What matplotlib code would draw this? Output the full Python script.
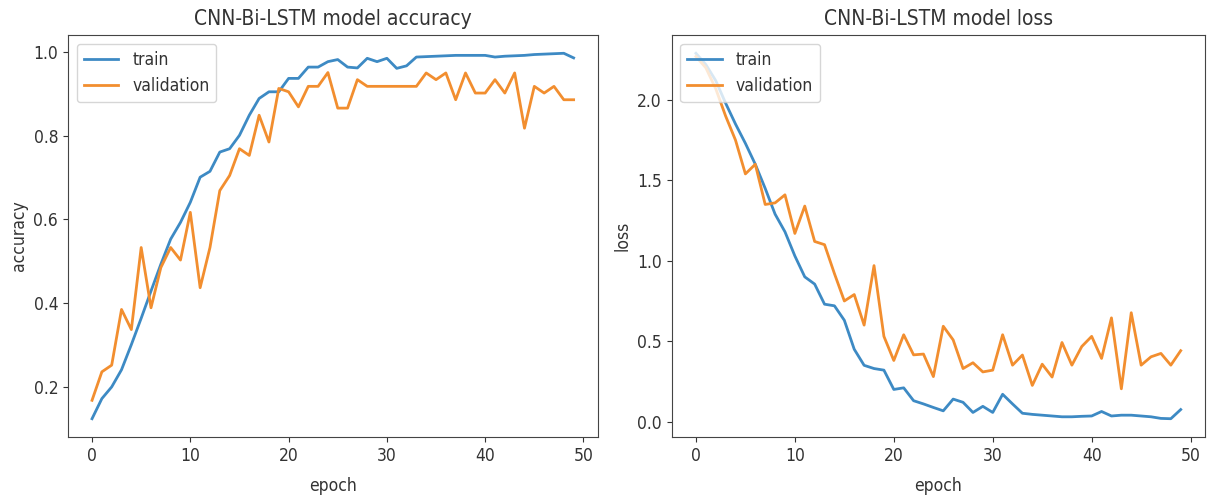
import numpy as np
import matplotlib
matplotlib.use('Agg')
from matplotlib import pyplot as plt

epochs = np.arange(50)

# accuracy
train_acc = [0.124, 0.172, 0.200, 0.241, 0.301, 0.364, 0.429, 0.493, 0.553, 0.593,
             0.641, 0.701, 0.715, 0.761, 0.769, 0.801, 0.849, 0.889, 0.905, 0.905,
             0.937, 0.937, 0.964, 0.964, 0.977, 0.982, 0.964, 0.962, 0.985, 0.977,
             0.985, 0.961, 0.967, 0.988, 0.989, 0.990, 0.991, 0.992, 0.992, 0.992,
             0.992, 0.988, 0.990, 0.991, 0.992, 0.994, 0.995, 0.996, 0.997, 0.986]
val_acc = [0.168, 0.236, 0.252, 0.385, 0.337, 0.533, 0.389, 0.485, 0.533, 0.503,
           0.617, 0.437, 0.533, 0.669, 0.705, 0.769, 0.753, 0.849, 0.785, 0.913,
           0.905, 0.869, 0.918, 0.918, 0.951, 0.866, 0.866, 0.934, 0.918, 0.918,
           0.918, 0.918, 0.918, 0.918, 0.950, 0.934, 0.950, 0.886, 0.950, 0.902,
           0.902, 0.934, 0.902, 0.950, 0.818, 0.918, 0.902, 0.918, 0.886, 0.886]

# loss
train_loss = [2.29, 2.22, 2.12, 1.98, 1.85, 1.73, 1.60, 1.45, 1.29, 1.18,
              1.03, 0.90, 0.855, 0.73, 0.72, 0.63, 0.45, 0.35, 0.33, 0.32,
              0.20, 0.21, 0.13, 0.11, 0.088, 0.067, 0.14, 0.12, 0.057, 0.095,
              0.057, 0.17, 0.11, 0.052, 0.045, 0.04, 0.035, 0.03, 0.03, 0.033,
              0.035, 0.063, 0.035, 0.04, 0.04, 0.035, 0.03, 0.02, 0.018, 0.075]
val_loss = [2.27, 2.20, 2.07, 1.90, 1.75, 1.54, 1.60, 1.35, 1.36, 1.41,
            1.17, 1.34, 1.12, 1.10, 0.92, 0.75, 0.79, 0.60, 0.97, 0.53,
            0.38, 0.54, 0.415, 0.42, 0.28, 0.593, 0.508, 0.33, 0.366, 0.309,
            0.32, 0.54, 0.351, 0.414, 0.225, 0.357, 0.277, 0.492, 0.351, 0.467,
            0.53, 0.393, 0.645, 0.204, 0.677, 0.351, 0.403, 0.424, 0.351, 0.441]

plt.rcParams['font.family'] = 'DejaVu Sans'
plt.rcParams['font.stretch'] = 'condensed'
plt.rcParams['text.color'] = '#333333'
plt.rcParams['axes.labelcolor'] = '#333333'
plt.rcParams['xtick.color'] = '#333333'
plt.rcParams['ytick.color'] = '#333333'
plt.rcParams['axes.edgecolor'] = '#444444'

blue = '#3d8ac4'
orange = '#f28e2f'

fig = plt.figure(figsize=(12.07, 4.98), dpi=100)
ax1 = fig.add_axes([0.0563, 0.1225, 0.4389, 0.8072])
ax2 = fig.add_axes([0.5565, 0.1225, 0.4418, 0.8072])

fs = 12.5
for ax, tr, va, name in [(ax1, train_acc, val_acc, 'accuracy'),
                         (ax2, train_loss, val_loss, 'loss')]:
    ax.plot(epochs, tr, lw=2, color=blue)
    ax.plot(epochs, va, lw=2, color=orange)
    ax.set_title('CNN-Bi-LSTM model ' + name, fontsize=15, pad=7)
    ax.set_ylabel(name, fontsize=fs)
    ax.set_xlabel('epoch', fontsize=fs, labelpad=9)
    ax.legend(['train', 'validation'], loc='upper left', fontsize=fs)
    ax.tick_params(labelsize=fs)

fig.savefig('out.png', dpi=100)
